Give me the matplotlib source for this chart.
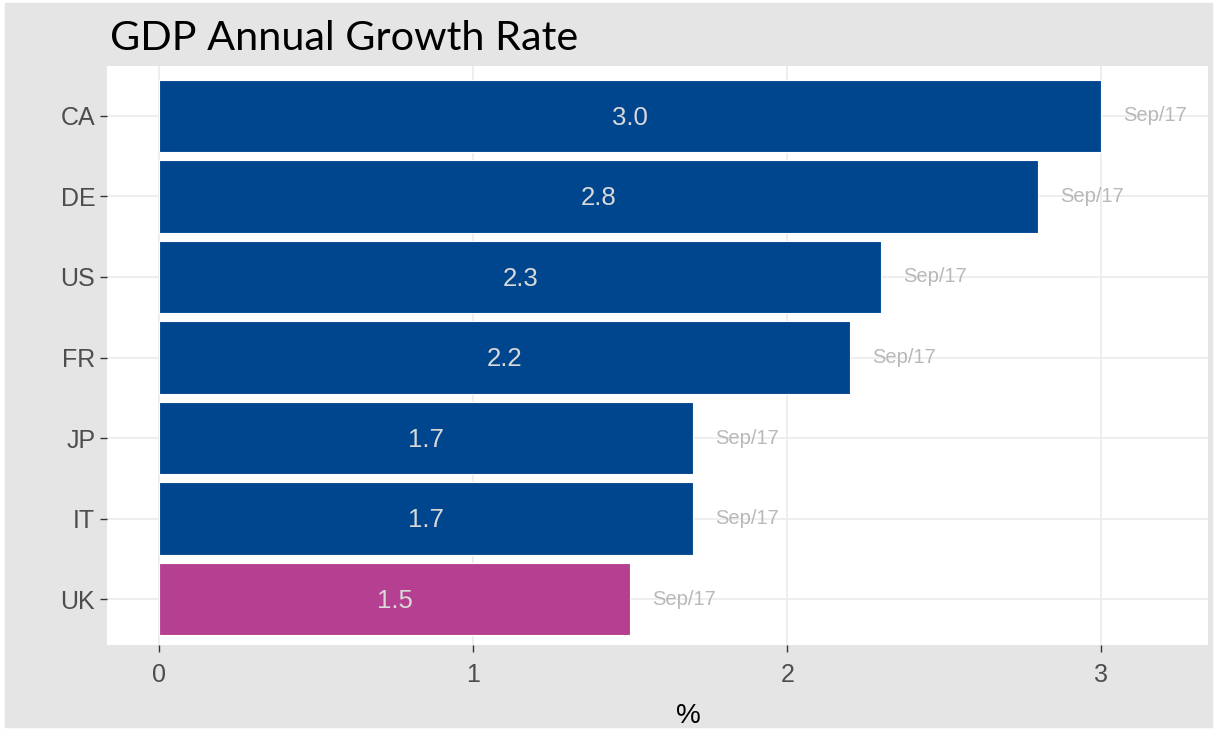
import matplotlib
matplotlib.use('Agg')
import matplotlib.pyplot as plt
import numpy as np

# Data (top to bottom)
countries = ['CA', 'DE', 'US', 'FR', 'JP', 'IT', 'UK']
growth = [3.0, 2.8, 2.3, 2.2, 1.7, 1.7, 1.5]
dates = ['Sep/17'] * 7
highlight = 'UK'

blue = '#00468f'
pink = '#b54092'

fig = plt.figure(figsize=(12.16, 7.3), dpi=100, facecolor='white')
# grey plot background
fig.patches.append(plt.Rectangle((5 / 1216, 3 / 730), 1207 / 1216, 724 / 730,
                                 transform=fig.transFigure, color='#e5e5e5', zorder=-10))
ax = fig.add_axes([107 / 1216, 1 - 645 / 730, (1208 - 107) / 1216, (645 - 66) / 730])
ax.set_facecolor('white')

y = np.arange(len(countries))
colors = [pink if c == highlight else blue for c in countries]
ax.barh(y, growth, height=0.9, color=colors, edgecolor='white', linewidth=0.8, zorder=2)

for yi, v, d in zip(y, growth, dates):
    ax.text(v / 2, yi + 0.02, f'{v:.1f}', ha='center', va='center', color='#d9d9d9',
            fontsize=18.5, family='Liberation Sans', zorder=3)
    ax.text(v + 0.07, yi, d, ha='left', va='center', color='#b8b8b8',
            fontsize=14.5, family='Liberation Sans', zorder=3)

ax.set_xlim(-0.166, 3.34)
ax.set_ylim(6.57, -0.62)
ax.set_xticks([0, 1, 2, 3])
ax.set_yticks(y)
ax.set_yticklabels(countries)
ax.grid(True, color='#ebebeb', linewidth=1.2, zorder=0)
ax.set_axisbelow(True)
for s in ax.spines.values():
    s.set_visible(False)
ax.tick_params(axis='both', colors='#333333', labelcolor='#4d4d4d', length=5, width=1,
               labelsize=18)
ax.tick_params(axis='x', pad=8)
for lab in ax.get_xticklabels() + ax.get_yticklabels():
    lab.set_family(['Liberation Sans Narrow', 'Liberation Sans'])
ax.set_xlabel('%', fontsize=20, family=['Liberation Sans Narrow', 'Liberation Sans'],
              color='black', labelpad=4)
ax.xaxis.set_label_coords((688 - 107) / 1101, -0.1)

fig.text(110 / 1216, 1 - 39 / 730, 'GDP Annual Growth Rate', fontsize=29.8, family='Lato',
         ha='left', va='center', color='black')

fig.savefig('out.png', dpi=100, facecolor='white')
